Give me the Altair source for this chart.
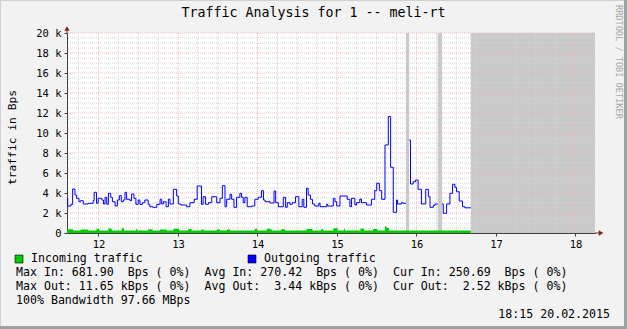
import altair as alt
import pandas as pd

# ---------------- data (hours relative to 12 Feb 00:00) ----------------
out_h = [-9.5, -9.3, -8.3, -7.8, -7.1, -6.6, -5.9, -5.4, -4.6, -3.1, -1.6, -1.3, -0.6, -0.1,
         1.0, 1.5, 2.0, 2.5, 3.0, 3.7, 4.2, 5.0, 5.7, 6.3, 6.9, 7.5, 8.0, 8.5, 9.5, 10.0,
         10.7, 11.3, 12.0, 12.5, 13.3, 14.0, 15.0, 15.5, 16.4, 17.6, 18.6, 19.1, 19.6, 20.4,
         21.1, 21.6, 22.6, 23.6, 24.1, 24.8, 26.6, 27.6, 28.9, 29.8, 31.1, 31.6, 32.3, 33.2,
         34.2, 35.7, 36.7, 37.4, 38.2, 38.7, 39.7, 40.2, 40.9, 41.7, 42.7, 43.2, 43.7, 44.2,
         44.9, 46.2, 47.2, 48.2, 49.2, 49.8, 50.3, 51.8, 53.0, 53.5, 54.3, 55.8, 56.5, 57.0,
         57.8, 58.5, 59.5, 60.5, 61.5, 62.0, 62.8, 63.3, 64.0, 64.6, 65.3, 66.5, 66.9, 68.9,
         69.2, 70.9, 71.4, 71.9, 72.9, 75.1, 75.9, 76.4, 77.4, 77.9, 78.9, 79.4, 80.9, 82.4,
         83.4, 84.0, 84.8, 85.5, 86.5, 87.5, 88.2, 89.0, 90.0, 90.3, 91.5, 92.0, 92.8,
         93.8, 94.2, 95.0, 95.7, 96.5, 97.5, 98.8, 99.6, 100.1, 101.1, 101.6, 102.4,
         103.7, 104.1, 105.1, 106.1, 106.9, 107.6, 108.1, 108.9, 109.9, 110.6]
out_kbps = [3.47, 2.70, 2.87, 4.40, 3.80, 3.47, 3.13, 3.23, 2.90, 2.97, 3.23, 4.07, 2.97, 3.47,
            3.30, 2.90, 3.57, 2.87, 3.97, 3.57, 3.13, 2.70, 3.30, 3.73, 3.13, 3.30, 4.07, 3.37, 3.23, 3.90,
            3.47, 2.87, 3.30, 2.87, 3.03, 3.30, 2.87, 2.63, 2.57, 2.87, 3.37, 2.90, 3.13, 2.63,
            3.37, 2.90, 4.37, 3.70, 2.90, 2.80, 2.63, 3.03, 3.37, 4.70, 2.87, 3.63, 2.87, 3.03,
            3.63, 3.03, 3.47, 4.73, 2.63, 3.37, 3.87, 3.37, 2.57, 3.57, 3.97, 3.57, 3.03, 3.57,
            2.63, 2.70, 3.37, 3.57, 4.23, 3.30, 3.13, 3.00, 4.20, 3.03, 2.63, 3.57, 2.57, 3.03,
            2.87, 3.03, 3.63, 2.63, 3.37, 2.57, 4.47, 3.80, 3.37, 2.90, 2.70, 2.97, 2.63, 2.87,
            2.70, 3.47, 3.13, 2.70, 3.70, 3.37, 2.63, 3.47, 2.80, 3.03, 3.40, 3.03, 2.80, 3.37,
            4.23, 4.97, 4.23, 3.37, 8.80, 11.65, 6.57, 2.07, 3.30, 2.90, 3.03, 2.97, None,
            9.30, 4.90, 5.13, 5.30, 4.37, 2.90, 4.37, 3.63, 2.57, 2.77, 2.90, None,
            2.90, 1.97, 2.90, 3.97, 4.87, 4.57, 4.13, 3.20, 2.63, 2.52]

in_h = [-9.5, -7.6, -5.4, -3.1, -0.6, 0.3, 3.0, 4.0, 7.0, 7.7, 11.3, 11.7, 15.0, 16.3,
        18.6, 20.6, 22.6, 24.4, 27.1, 28.1, 31.1, 31.8, 35.7, 36.7, 38.7, 39.7, 47.2, 47.9,
        50.8, 51.8, 52.3, 55.1, 56.3, 62.8, 64.6, 67.2, 67.9, 70.9, 72.2, 74.1, 74.4, 79.1,
        80.2, 82.9, 84.2, 86.5, 87.0, 87.7, 92.8, 93.8, 102.4, 103.7]
in_bps = [380, 260, 360, 260, 420, 260, 450, 260, 480, 260, 380, 260, 370, 260,
          360, 260, 420, 260, 400, 260, 350, 260, 360, 260, 340, 260, 420, 260,
          430, 380, 260, 380, 260, 400, 260, 370, 260, 480, 260, 420, 260, 440,
          260, 400, 260, 682, 500, 260, None, 260, None, 251]

data_end = 112.4
unknown_start = [92.8, 102.4, 112.4]
unknown_end = [93.8, 103.7, 149.9]

x_domain = [-9.5, 149.9]
y_domain = [0, 20000]

chart_title = "Traffic Analysis for 1 -- meli-rt"
y_title = "traffic in Bps"
legend_in = "Incoming traffic"
legend_out = "Outgoing traffic"
stats_lines = [
    "Max In: 681.90  Bps ( 0%)  Avg In: 270.42  Bps ( 0%)  Cur In: 250.69  Bps ( 0%)",
    "Max Out: 11.65 kBps ( 0%)  Avg Out:  3.44 kBps ( 0%)  Cur Out:  2.52 kBps ( 0%)",
    "100% Bandwidth 97.66 MBps",
]
timestamp = "18:15 20.02.2015"
watermark = "RRDTOOL / TOBI OETIKER"

MONO = "DejaVu Sans Mono"


def build(hours, values, end_h, scale=1.0):
    rows = []
    seg = 0
    for i, (h, v) in enumerate(zip(hours, values)):
        if v is None:
            seg += 1
            continue
        rows.append({"h": h, "v": v * scale, "seg": seg})
        last = (i + 1 == len(hours)) or values[i + 1] is None
        if last:
            nxt = hours[i + 1] if i + 1 < len(hours) else end_h
            rows.append({"h": nxt, "v": v * scale, "seg": seg})
    return pd.DataFrame(rows)


out_df = build(out_h, out_kbps, data_end, 1000.0)
in_df = build(in_h, in_bps, data_end, 1.0)
unk_df = pd.DataFrame({"s": unknown_start, "e": unknown_end})

major_x = list(range(0, 150, 24))
minor_x = [v for v in range(-6, 150, 6) if v % 24 != 0]
major_y = list(range(2000, 20001, 2000))
minor_y = [v for v in range(500, 20001, 500) if v % 2000 != 0]

xs = alt.Scale(domain=x_domain, nice=False, zero=False)
ys = alt.Scale(domain=y_domain, nice=False)

XAXIS = alt.Axis(
    values=major_x, labelExpr="format(12 + datum.value / 24, 'd')",
    grid=False, domainColor="#404040", tickColor="#404040", tickSize=3,
    labelFont=MONO, labelFontSize=10.5, labelColor="#000000", labelPadding=3,
    title=None)
YAXIS = alt.Axis(
    values=list(range(0, 20001, 2000)),
    labelExpr="datum.value == 0 ? '0' : format(datum.value / 1000, 'd') + ' k'",
    grid=False, domainColor="#404040", tickColor="#404040", tickSize=3,
    labelFont=MONO, labelFontSize=10.5, labelColor="#000000", labelPadding=3,
    title=y_title, titleFont=MONO, titleFontSize=11.3, titleFontWeight="normal",
    titleColor="#000000", titleX=-55, titleY=104, titleAngle=270,
    titleAlign="center", titleBaseline="middle")


def X(field=None, **kw):
    if field is None:
        return alt.X(scale=xs, axis=XAXIS, **kw)
    return alt.X(field, scale=xs, axis=XAXIS, **kw)


def Y(field=None, **kw):
    if field is None:
        return alt.Y(scale=ys, axis=YAXIS, **kw)
    return alt.Y(field, scale=ys, axis=YAXIS, **kw)


unk = alt.Chart(unk_df).mark_rect(color="#c9c9c9").encode(
    x=X("s:Q"), x2="e:Q",
    y=Y(datum=20000), y2=alt.Y2(datum=0))


def vgrid(vals, color):
    return alt.Chart(pd.DataFrame({"g": vals})).mark_rule(
        color=color, strokeWidth=1, strokeDash=[1, 1]).encode(x=X("g:Q"))


def hgrid(vals, color):
    return alt.Chart(pd.DataFrame({"g": vals})).mark_rule(
        color=color, strokeWidth=1, strokeDash=[1, 1]).encode(y=Y("g:Q"))


grid_minor_v = vgrid(minor_x, "#d2d2d2")
grid_minor_h = hgrid(minor_y, "#d2d2d2")
grid_major_v = vgrid(major_x, "#f0b8b8")
grid_major_h = hgrid(major_y, "#f0b8b8")

incoming = alt.Chart(in_df).mark_area(interpolate="step-after", color="#00cc00").encode(
    x=X("h:Q"), y=Y("v:Q"), detail="seg:N")

outgoing = alt.Chart(out_df).mark_line(interpolate="step-after", color="#0000ff",
                                       strokeWidth=1).encode(
    x=X("h:Q"), y=Y("v:Q"), detail="seg:N")

one = pd.DataFrame({"a": [0]})
arrow_color = "#8c1c1c"
y_ext = alt.Chart(one).mark_rule(color="#404040", y2Offset=-5).encode(
    x=X(datum=x_domain[0]), y=Y(datum=y_domain[1]), y2=alt.Y2(datum=y_domain[1]))
x_ext = alt.Chart(one).mark_rule(color="#404040", x2Offset=5).encode(
    x=X(datum=x_domain[1]), x2=alt.X2(datum=x_domain[1]), y=Y(datum=0))
arrow_up = alt.Chart(one).mark_point(shape="triangle-up", filled=True, size=28,
                                     color=arrow_color, opacity=1, yOffset=-4.5).encode(
    x=X(datum=x_domain[0]), y=Y(datum=y_domain[1]))
arrow_right = alt.Chart(one).mark_point(shape="triangle-right", filled=True, size=28,
                                        color=arrow_color, opacity=1, xOffset=6).encode(
    x=X(datum=x_domain[1]), y=Y(datum=0))

# ---- texts outside the plot (pixel layout relative to plot origin) ----
LEG_FS = 11.6
NBSP = "\u00a0"


def text_layer(txt, x, y, align="left", size=LEG_FS, color="#000000", angle=0):
    return alt.Chart(pd.DataFrame({"t": [txt.replace(" ", NBSP)]})).mark_text(
        font=MONO, fontSize=size, align=align, baseline="middle", color=color,
        angle=angle).encode(x=alt.value(x), y=alt.value(y), text="t:N")


def swatch(x, color):
    return alt.Chart(one).mark_rect(color=color, stroke="#000000", strokeWidth=0.6).encode(
        x=alt.value(x), x2=alt.value(x + 8), y=alt.value(222), y2=alt.value(230))


texts = [
    text_layer(chart_title, 246.5, -20, align="center", size=13.3),
    swatch(-52, "#00cc00"), text_layer(legend_in, -36, 226),
    swatch(181, "#0000ff"), text_layer(legend_out, 197, 226),
]
for i, line in enumerate(stats_lines):
    texts.append(text_layer(line, -51, 240 + 14 * i))
texts.append(text_layer(timestamp, 543, 282, align="right"))
texts.append(text_layer(watermark, 552, -28, size=8.6, color="#a8a8a8", angle=90))


def border(x, x2, y, y2, color, w):
    return alt.Chart(one).mark_rule(color=color, strokeWidth=w).encode(
        x=alt.value(x), x2=alt.value(x2), y=alt.value(y), y2=alt.value(y2))


borders = [
    border(-67, 560, -32.5, -32.5, "#d0d0d0", 1),
    border(-66.5, -66.5, -33, 296, "#d0d0d0", 1),
    border(-67, 560, 294.5, 294.5, "#a0a0a0", 3),
    border(558.5, 558.5, -33, 296, "#a0a0a0", 3),
]

chart = alt.layer(
    unk, grid_minor_v, grid_minor_h, grid_major_v, grid_major_h,
    incoming, outgoing, y_ext, x_ext, arrow_up, arrow_right,
    *texts, *borders
).properties(
    width=528, height=200,
    autosize=alt.AutoSizeParams(type="none"),
    padding={"left": 67, "top": 33, "right": 32, "bottom": 96},
).configure(background="#f2f2f2").configure_view(fill="#ffffff", stroke=None)

chart.save("out.html", embed_options={"renderer": "svg", "actions": False})
